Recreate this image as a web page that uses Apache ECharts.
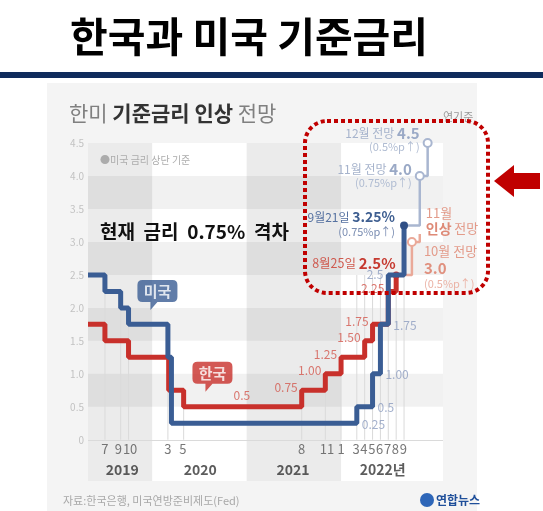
<!DOCTYPE html>
<html><head><meta charset="utf-8">
<script src="https://cdn.jsdelivr.net/npm/echarts@6/dist/echarts.min.js"></script>
<style>html,body{margin:0;padding:0;background:#fff}#c{width:543px;height:511px}</style>
</head><body><div id="c"></div>
<script>
// ---- Data (x = months since Jan 2019, 0 = Jan 2019) ----
const usMonths = [3.85, 6, 8, 9, 14.0, 14.45, 38, 40, 41, 42, 44];
const usRates  = [2.5, 2.25, 2.0, 1.75, 1.25, 0.25, 0.5, 1.0, 1.75, 2.5, 3.25];
const krMonths = [3.85, 6, 9, 14.1, 16, 31, 34, 36, 39, 40, 42, 43];
const krRates  = [1.75, 1.5, 1.25, 0.75, 0.5, 0.75, 1.0, 1.25, 1.5, 1.75, 2.25, 2.5];
const usProjMonths = [44, 46, 47];
const usProjRates  = [3.25, 4.0, 4.5];
const krProjMonths = [43, 45, 46];
const krProjRates  = [2.5, 3.0, 3.12];
const monthTickPos    = [6, 7.7, 9.2, 14, 15.9, 31, 34.2, 36, 37.9, 38.9, 39.9, 40.9, 41.9, 42.9, 43.9];
const monthTickLabels = ['7','9','10','3','5','8','11','1','3','4','5','6','7','8','9'];
const yearPos    = [8.2, 18.1, 29.9, 41.3];
const yearLabels = ['2019', '2020', '2021', '2022년'];
const yearStarts = [12, 24, 36];
const dropMonths = [6, 8, 9, 14, 16, 31, 34, 36, 38, 39, 40, 41, 42, 43, 44];
const dropTops   = [2.25, 2.0, 1.75, 1.25, 0.75, 0.75, 1.0, 1.25, 2.5, 2.5, 2.5, 2.5, 2.5, 2.5, 3.25];
const krLabelIdx   = [5, 6, 7, 8, 9, 10];
const krLabelTexts = ['0.75', '1.00', '1.25', '1.50', '1.75', '2.25'];
const usLabelIdx   = [6, 7, 8, 9];
const usLabelTexts = ['0.25', '0.5', '1.00', '1.75'];
const greyRows = [[0.5, 1.0], [1.5, 2.0], [2.5, 3.0], [3.5, 4.0]];

const X_MIN = 3.85, X_MAX = 48.95, Y_MIN = -0.625, Y_MAX = 4.5;
const FONT = '"Noto Sans CJK KR", "Noto Sans", sans-serif';
const BLUE = '#3a5d94', RED = '#c8302b', BLUE_L = '#a9b6d0', RED_L = '#eaa999';

// background areas
const areas = [];
areas.push([{xAxis: X_MIN, yAxis: Y_MIN, itemStyle: {color: '#ffffff'}}, {xAxis: X_MAX, yAxis: Y_MAX}]);
areas.push([{xAxis: X_MIN, yAxis: Y_MIN, itemStyle: {color: 'rgba(0,0,0,0.08)'}}, {xAxis: yearStarts[0], yAxis: Y_MAX}]);
areas.push([{xAxis: yearStarts[1], yAxis: Y_MIN, itemStyle: {color: 'rgba(0,0,0,0.08)'}}, {xAxis: yearStarts[2], yAxis: Y_MAX}]);
greyRows.forEach(r => areas.push([{xAxis: X_MIN, yAxis: r[0], itemStyle: {color: 'rgba(0,0,0,0.055)'}}, {xAxis: X_MAX, yAxis: r[1]}]));

function pts(ms, vs) { return ms.map((m, i) => [m, vs[i]]); }

// historical lines
const usData = pts(usMonths, usRates).map((p, i, a) => i === a.length - 1 ? {
  value: p, symbol: 'circle', symbolSize: 8, itemStyle: {color: '#2f4f85'},
  label: {show: true, position: 'left', distance: 5, offset: [0, -2],
    formatter: '{a|9월21일} {b|3.25%}\n{c|(0.75%p↑)}',
    rich: {a: {fontSize: 12, color: '#5571a0'}, b: {fontSize: 14, fontWeight: 'bold', color: '#3f5f91'}, c: {fontSize: 11, color: '#7a8db2', padding: [2, 0, 0, 0]}}}
} : {value: p, symbol: 'none'});
const krData = pts(krMonths, krRates).map((p, i, a) => i === a.length - 1 ? {
  value: p, symbol: 'circle', symbolSize: 7, itemStyle: {color: RED},
  label: {show: true, position: 'left', distance: 0, offset: [3, -12],
    formatter: '{a|8월25일} {b|2.5%}',
    rich: {a: {fontSize: 12.5, color: '#cf5a4f'}, b: {fontSize: 15, fontWeight: 'bold', color: '#c63a30'}}}
} : {value: p, symbol: 'none'});

const usProj = pts(usProjMonths, usProjRates).map((p, i) => {
  if (i === 0) return {value: p, symbol: 'none'};
  const txt = i === 1 ? '{a|11월 전망} {b|4.0}\n{c|(0.75%p↑)}' : '{a|12월 전망} {b|4.5}\n{c|(0.5%p↑)}';
  return {value: p, symbol: 'circle', symbolSize: 8, itemStyle: {color: '#fff', borderColor: BLUE_L, borderWidth: 2},
    label: {show: true, position: 'left', distance: 3, offset: [0, i === 1 ? -1 : -4], formatter: txt,
      rich: {a: {fontSize: 12, color: '#a6b3cc'}, b: {fontSize: 15, fontWeight: 'bold', color: '#9aa9c6'}, c: {fontSize: 11, color: '#b0bcd2', padding: [1, 0, 0, 0]}}}};
});
const krProj = pts(krProjMonths, krProjRates).map((p, i) => {
  if (i === 0) return {value: p, symbol: 'none'};
  if (i === 1) return {value: p, symbol: 'circle', symbolSize: 8, itemStyle: {color: '#fff', borderColor: RED_L, borderWidth: 2},
    label: {show: true, position: 'right', distance: 7, offset: [0, 25], align: 'left',
      formatter: '{a|10월 전망}\n{b|3.0}\n{c|(0.5%p↑)}',
      rich: {a: {fontSize: 13, color: '#e39b8a', lineHeight: 16}, b: {fontSize: 15, fontWeight: 'bold', color: '#e0907e', lineHeight: 17}, c: {fontSize: 11, color: '#ebb3a6', lineHeight: 14}}}};
  return {value: p, symbol: 'circle', symbolSize: 0,
    label: {show: true, position: 'right', distance: 6, offset: [0, -13], align: 'left',
      formatter: '{a|11월}\n{b|인상} {a|전망}',
      rich: {a: {fontSize: 13, color: '#e39b8a', lineHeight: 15}, b: {fontSize: 14, fontWeight: 'bold', color: '#de8a77', lineHeight: 15}}}};
});

// value labels on lines
const krLabelData = krLabelIdx.map((k, j) => ({value: [krMonths[k], krRates[k]], name: krLabelTexts[j]}));
const usLabelData = usLabelIdx.map((k, j) => ({value: [usMonths[k], usRates[k - 1]], name: usLabelTexts[j]}));

const tickData = monthTickPos.map((m, i) => ({value: [m, -0.14], name: monthTickLabels[i]}));
const yearData = yearPos.map((m, i) => ({value: [m, -0.46], name: yearLabels[i]}));

const bubblePath = 'path://M5,0 L35,0 Q40,0 40,5 L40,17 Q40,22 35,22 L20,22 L13,30 L13,22 L5,22 Q0,22 0,17 L0,5 Q0,0 5,0 Z';

const chart = echarts.init(document.getElementById('c'), null, {renderer: 'canvas'});
chart.setOption({
  backgroundColor: '#ffffff',
  animation: false,
  textStyle: {fontFamily: FONT},
  grid: {left: 88, right: 100, top: 143, bottom: 30},
  xAxis: {type: 'value', min: X_MIN, max: X_MAX, show: false},
  yAxis: {type: 'value', min: Y_MIN, max: Y_MAX, interval: 0.125,
    axisLine: {show: false}, axisTick: {show: false}, splitLine: {show: false},
    axisLabel: {margin: 4, fontSize: 10, color: '#c2c2c2', fontFamily: FONT,
      formatter: v => (v >= -1e-9 && Math.abs(v * 2 - Math.round(v * 2)) < 1e-6) ? (Math.abs(v) < 1e-9 ? '0' : v.toFixed(1)) : ''}},
  graphic: [
    {type: 'rect', z: -100, shape: {x: 47, y: 83, width: 430, height: 428}, style: {fill: '#f4f4f4'}},
    {type: 'text', z: 100, style: {text: '한국과 미국 기준금리', x: 249, y: 36, textAlign: 'center', textVerticalAlign: 'middle', font: 'bold 41px ' + FONT, fill: '#000'}},
    {type: 'rect', z: 100, shape: {x: 0, y: 72, width: 543, height: 6}, style: {fill: '#0f2b5c'}},
    {type: 'text', z: 100, style: {x: 69, y: 113, textVerticalAlign: 'middle', text: '{a|한미 }{b|기준금리 인상}{a| 전망}',
      rich: {a: {font: '21px ' + FONT, fill: '#808080'}, b: {font: 'bold 21px ' + FONT, fill: '#333'}}}},
    {type: 'text', z: 100, style: {x: 443, y: 117, textVerticalAlign: 'middle', text: '연기준', font: '11px ' + FONT, fill: '#999'}},
    {type: 'text', z: 100, style: {x: 100, y: 160, textVerticalAlign: 'middle', text: '●미국 금리 상단 기준', font: '10px ' + FONT, fill: '#acacac'}},
    {type: 'text', z: 100, style: {x: 100, y: 232, textVerticalAlign: 'middle', text: '현재  금리  0.75%  격차', font: 'bold 19px ' + FONT, fill: '#111'}},
    {type: 'text', z: 100, style: {x: 63, y: 501, textVerticalAlign: 'middle', text: '자료:한국은행, 미국연방준비제도(Fed)', font: '11px ' + FONT, fill: '#a8a8a8'}},
    {type: 'circle', z: 100, shape: {cx: 427, cy: 500, r: 7}, style: {fill: '#2d66b8'}},
    {type: 'text', z: 100, style: {x: 436, y: 500, textVerticalAlign: 'middle', text: '연합뉴스', font: 'bold 12px ' + FONT, fill: '#1f4f9a'}},
    {type: 'rect', z: 100, shape: {x: 305, y: 121, width: 183, height: 172, r: 22},
      style: {fill: 'none', stroke: '#c00000', lineWidth: 4, lineDash: [4, 3]}},
    {type: 'polygon', z: 100, shape: {points: [[494, 181], [514, 165], [514, 173], [540, 173], [540, 189], [514, 189], [514, 197]]}, style: {fill: '#c00000'}}
  ],
  series: [
    {type: 'bar', name: 'drop', data: pts(dropMonths, dropTops), barWidth: 1, silent: true,
      itemStyle: {color: '#dadada'},
      markArea: {silent: true, z: 1, label: {show: false}, data: areas},
      markLine: {silent: true, symbol: 'none', label: {show: false}, lineStyle: {color: '#dadada', width: 1, type: 'solid'}, data: [{yAxis: 0}]}},
    {type: 'line', name: 'krProj', step: 'end', z: 3, data: krProj, lineStyle: {color: RED_L, width: 2.5}, itemStyle: {color: RED_L}},
    {type: 'line', name: 'usProj', step: 'end', z: 3, data: usProj, lineStyle: {color: BLUE_L, width: 2.5}, itemStyle: {color: BLUE_L}},
    {type: 'line', name: '한국', step: 'end', z: 4, data: krData, lineStyle: {color: RED, width: 5}, itemStyle: {color: RED}},
    {type: 'line', name: '미국', step: 'end', z: 5, data: usData, lineStyle: {color: BLUE, width: 5}, itemStyle: {color: BLUE}},
    {type: 'scatter', z: 6, silent: true, symbolSize: 0, data: krLabelData,
      label: {show: true, position: 'left', distance: 4, offset: [0, -3], formatter: '{b}', fontSize: 12, color: '#d3584d'}},
    {type: 'scatter', z: 6, silent: true, symbolSize: 0, data: [{value: [23.4, krRates[4]], name: '0.5'}],
      label: {show: true, position: 'top', distance: 5, formatter: '{b}', fontSize: 12, color: '#d3584d'}},
    {type: 'scatter', z: 6, silent: true, symbolSize: 0, data: usLabelData,
      label: {show: true, position: 'right', distance: 5, offset: [0, 1], formatter: '{b}', fontSize: 12, color: '#8c9cbf'}},
    {type: 'scatter', z: 6, silent: true, symbolSize: 0, data: [{value: [usMonths[9], usRates[9]], name: '2.5'}],
      label: {show: true, position: 'left', distance: 5, formatter: '{b}', fontSize: 12, color: '#8c9cbf'}},
    {type: 'scatter', z: 6, silent: true, symbolSize: 0, data: tickData,
      label: {show: true, position: 'inside', formatter: '{b}', fontSize: 13, color: '#555'}},
    {type: 'scatter', z: 6, silent: true, symbolSize: 0, data: yearData,
      label: {show: true, position: 'inside', formatter: '{b}', fontSize: 14, fontWeight: 'bold', color: '#333'}},
    {type: 'scatter', z: 7, silent: true, symbol: bubblePath, symbolSize: [40, 30],
      data: [{value: [12.67, 2.197], name: '미국', itemStyle: {color: BLUE}},
             {value: [19.66, 0.955], name: '한국', itemStyle: {color: RED}}],
      label: {show: true, position: 'inside', offset: [0, -4], formatter: '{b}', fontSize: 15, fontWeight: 'bold', color: '#fff'}}
  ]
});
</script></body></html>
